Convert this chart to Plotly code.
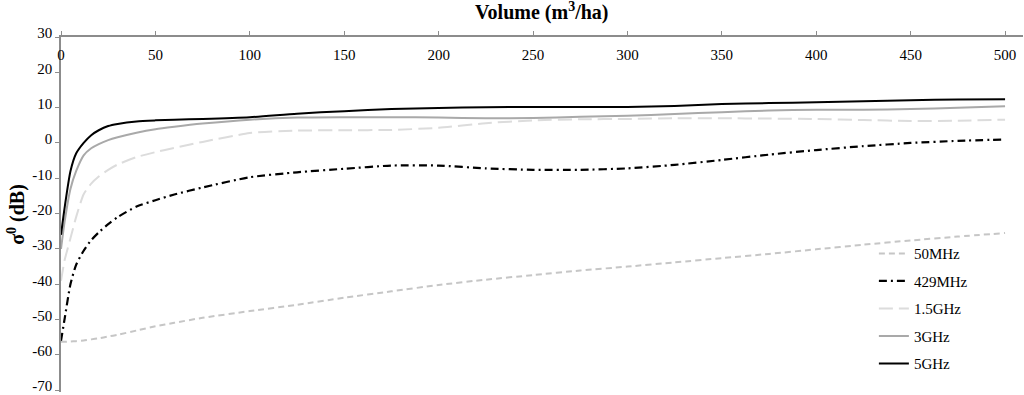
import plotly.graph_objects as go

volume = [0, 2, 5, 8, 12, 16, 20, 25, 30, 40, 50, 60, 75, 100, 125, 150, 175, 200,
          225, 250, 275, 300, 325, 350, 375, 400, 425, 450, 475, 500]

s_50mhz = [-56.3, -56.3, -56.2, -56.1, -55.9, -55.6, -55.3, -54.8, -54.3, -53.1, -51.9, -50.9,
           -49.5, -47.6, -45.8, -43.8, -42.0, -40.2, -38.7, -37.4, -36.1, -35.0, -33.8, -32.6,
           -31.4, -30.1, -28.8, -27.6, -26.5, -25.5]
s_429mhz = [-56.0, -49.5, -40.0, -34.5, -30.5, -27.5, -25.3, -23.0, -21.0, -18.0, -16.2, -14.6,
            -12.6, -9.7, -8.3, -7.3, -6.4, -6.4, -7.2, -7.6, -7.6, -7.2, -6.2, -4.8,
            -3.3, -2.0, -0.9, 0.0, 0.6, 1.0]
s_1_5ghz = [-39.0, -33.0, -27.0, -21.0, -14.5, -11.5, -9.5, -7.6, -6.1, -4.0, -2.6, -1.4,
            0.3, 2.8, 3.5, 3.6, 3.7, 4.3, 5.6, 6.4, 6.7, 6.8, 7.0, 7.0,
            6.9, 6.8, 6.5, 6.2, 6.3, 6.6]
s_3ghz = [-30.0, -22.0, -13.0, -8.0, -3.5, -1.5, -0.3, 0.8, 1.6, 2.9, 3.9, 4.6,
          5.5, 6.6, 7.2, 7.3, 7.3, 7.2, 7.0, 7.1, 7.4, 7.7, 8.2, 8.7,
          9.2, 9.4, 9.4, 9.6, 10.0, 10.4]
s_5ghz = [-26.0, -18.0, -8.0, -3.0, 0.0, 2.2, 3.6, 4.8, 5.4, 6.1, 6.4, 6.6,
          6.8, 7.3, 8.3, 9.0, 9.6, 9.9, 10.1, 10.2, 10.2, 10.2, 10.5, 11.0,
          11.3, 11.5, 11.8, 12.1, 12.3, 12.4]

x_ticks = [0, 50, 100, 150, 200, 250, 300, 350, 400, 450, 500]
x_labels = ["0", "50", "100", "150", "200", "250", "300", "350", "400", "450", "500"]
y_ticks = [30, 20, 10, 0, -10, -20, -30, -40, -50, -60, -70]
y_labels = ["30", "20", "10", "0", "-10", "-20", "-30", "-40", "-50", "-60", "-70"]

series = [
    ("50MHz", s_50mhz, "#c6c6c6", "6px,4px", 2),
    ("429MHz", s_429mhz, "#000000", "8px,4px,2px,4px", 2.2),
    ("1.5GHz", s_1_5ghz, "#dcdcdc", "14px,6px", 2),
    ("3GHz", s_3ghz, "#a9a9a9", "solid", 2),
    ("5GHz", s_5ghz, "#000000", "solid", 2),
]

fig = go.Figure()
for i, (name, vals, color, dash, w) in enumerate(series):
    fig.add_trace(go.Scatter(
        x=volume, y=vals, name=name, mode="lines", legendgroup=f"g{i}",
        line=dict(color=color, dash=dash, width=w, shape="spline", smoothing=0.6),
    ))

font = "Liberation Serif, Times New Roman, serif"
x_range = [0, 509.5]
fig.update_layout(
    width=1024, height=395,
    margin=dict(l=61, r=1, t=37, b=3, autoexpand=False),
    paper_bgcolor="white", plot_bgcolor="white",
    font=dict(family=font, size=15, color="black"),
    showlegend=True,
    legend=dict(x=0.845, y=0.436, xanchor="left", yanchor="top",
                bgcolor="rgba(0,0,0,0)", tracegroupgap=5,
                font=dict(family=font, size=15, color="black")),
    xaxis=dict(range=x_range, side="top", tickvals=x_ticks, showticklabels=False,
               showline=True, linecolor="#8c8c8c", linewidth=1.5,
               ticks="outside", ticklen=4, tickcolor="#8c8c8c",
               showgrid=False, zeroline=False, automargin=False),
    xaxis2=dict(range=x_range, overlaying="x", anchor="free", side="bottom",
                position=0.98, tickvals=x_ticks, ticktext=x_labels,
                showline=False, ticks="", showgrid=False, zeroline=False,
                automargin=False, tickfont=dict(family=font, size=15, color="black")),
    yaxis=dict(range=[-70.5, 30], tickvals=y_ticks, ticktext=y_labels,
               showline=True, linecolor="#8c8c8c", linewidth=1.5,
               ticks="outside", ticklen=4, tickcolor="#8c8c8c", ticklabelshift=-4,
               showgrid=False, zeroline=False, automargin=False,
               title=dict(text="<b>σ<sup>0</sup> (dB)</b>",
                          font=dict(size=20, family=font), standoff=2)),
    annotations=[dict(text="<b>Volume (m<sup>3</sup>/ha)</b>", xref="paper", yref="paper",
                      x=0.5, y=1.072, xanchor="center", yanchor="middle", showarrow=False,
                      font=dict(size=20, family=font, color="black"))],
)
# invisible trace to activate the label axis
fig.add_trace(go.Scatter(x=[None], y=[None], xaxis="x2", showlegend=False, hoverinfo="skip"))

fig.write_html("out.html", config={"displayModeBar": False},
               post_script="document.body.style.margin='0';")
